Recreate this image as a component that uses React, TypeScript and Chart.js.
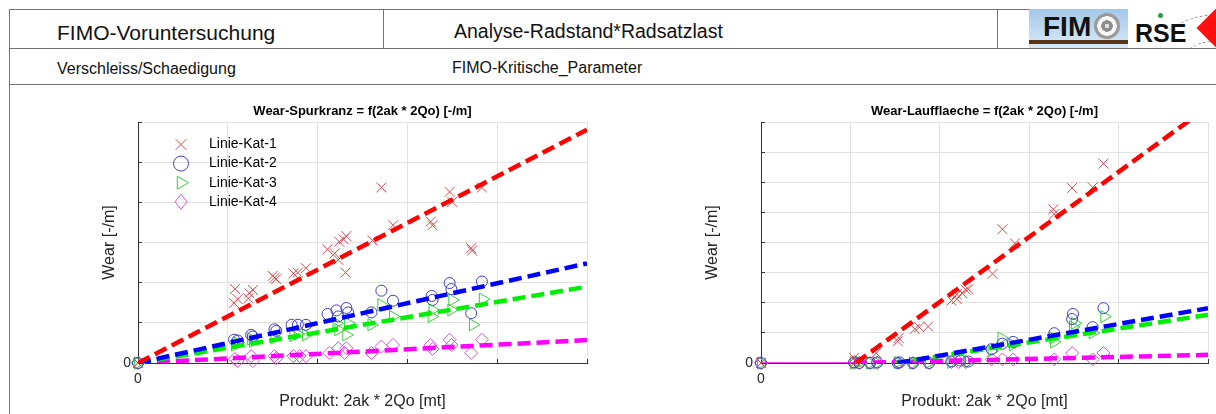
import React, { useEffect, useRef } from 'react';
import { Chart, registerables } from 'chart.js';

Chart.register(...registerables);

type Pt = [number, number];

const FONT = '"Liberation Sans", Arial, Helvetica, sans-serif';

// ---------- texts ----------
const headerMain = 'FIMO-Voruntersuchung';
const headerAnalysis = 'Analyse-Radstand*Radsatzlast';
const headerSub = 'Verschleiss/Schaedigung';
const headerParam = 'FIMO-Kritische_Parameter';
const titleSpur = 'Wear-Spurkranz = f(2ak * 2Qo) [-/m]';
const titleLauf = 'Wear-Laufflaeche = f(2ak * 2Qo) [-/m]';
const xAxisTitle = 'Produkt: 2ak * 2Qo [mt]';
const yAxisTitle = 'Wear [-/m]';
const seriesLabels = ['Linie-Kat-1', 'Linie-Kat-2', 'Linie-Kat-3', 'Linie-Kat-4'];

// ---------- axis ranges / ticks ----------
const xTickValues = [0, 1, 2, 3, 4, 5];
const ySpurTickValues = [0, 1, 2, 3, 4, 5, 6];
const yLaufTickValues = [0, 1, 2, 3, 4, 5, 6, 7, 8];
const shownTickLabels = ['0'];

// ---------- data: Wear-Spurkranz ----------
const spurKat1: Pt[] = [
  [0, 0], [1.08, 1.84], [1.07, 1.49], [1.11, 1.59], [1.24, 1.74], [1.28, 1.82], [1.23, 1.61],
  [1.50, 2.17], [1.54, 2.09], [1.52, 2.12], [1.73, 2.23], [1.78, 2.25], [1.87, 2.36],
  [2.11, 2.83], [2.19, 2.73], [2.24, 3.02], [2.29, 3.08], [2.32, 3.16], [2.31, 2.25], [2.23, 2.57],
  [2.61, 3.05], [2.71, 4.37], [2.84, 3.43], [3.26, 3.52], [3.28, 3.43], [3.47, 4.26], [3.50, 4.01],
  [3.71, 2.86], [3.72, 2.80], [3.83, 4.37],
];
const spurKat2: Pt[] = [
  [0, 0], [1.07, 0.58], [1.11, 0.56], [1.26, 0.70], [1.28, 0.66], [1.52, 0.84], [1.54, 0.80],
  [1.71, 0.95], [1.78, 0.95], [1.87, 0.95], [2.11, 1.22], [2.21, 1.31], [2.23, 1.16], [2.32, 1.37],
  [2.34, 1.26], [2.60, 1.26], [2.71, 1.80], [2.84, 1.55], [3.27, 1.67], [3.28, 1.57], [3.47, 1.99],
  [3.49, 1.84], [3.71, 1.24], [3.83, 2.03],
];
const spurKat3: Pt[] = [
  [0, 0], [1.08, 0.45], [1.11, 0.50], [1.28, 0.54], [1.26, 0.60], [1.52, 0.62], [1.73, 0.68],
  [1.78, 0.72], [1.87, 0.70], [2.21, 0.99], [2.23, 0.83], [2.32, 0.70], [2.34, 0.99], [2.60, 0.95],
  [2.71, 1.45], [2.84, 1.16], [3.27, 1.16], [3.28, 1.32], [3.49, 1.32], [3.50, 1.57], [3.73, 0.95],
  [3.84, 1.59],
];
const spurKat4: Pt[] = [
  [0, 0], [1.08, 0.10], [1.11, 0.05], [1.26, 0.17], [1.28, 0.05], [1.52, 0.17], [1.54, 0.12],
  [1.73, 0.17], [1.80, 0.17], [1.87, 0.17], [2.13, 0.25], [2.23, 0.37], [2.30, 0.25], [2.32, 0.37],
  [2.60, 0.25], [2.71, 0.41], [2.84, 0.45], [3.26, 0.45], [3.28, 0.35], [3.47, 0.58], [3.49, 0.45],
  [3.71, 0.25], [3.83, 0.58],
];
const spurFit1: Pt[] = [[0, 0], [5, 5.81]];
const spurFit2: Pt[] = [[0, 0], [5, 2.48]];
const spurFit3: Pt[] = [[0, 0], [5, 1.90]];
const spurFit4: Pt[] = [[0, 0], [5, 0.57]];

// ---------- data: Wear-Laufflaeche ----------
const laufKat1: Pt[] = [
  [0, 0], [1.04, 0.17], [1.06, 0.05], [1.10, 0.10], [1.29, 0.33], [1.53, 0.72], [1.54, 0.83],
  [1.72, 1.13], [1.77, 1.19], [1.87, 1.21], [2.13, 2.07], [2.19, 2.12], [2.19, 2.28], [2.25, 2.32],
  [2.29, 2.43], [2.32, 2.45], [2.59, 2.96], [2.70, 4.44], [2.84, 3.97], [3.27, 5.10], [3.28, 4.94],
  [3.48, 5.81], [3.71, 5.83], [3.83, 6.62],
];
const laufKat2: Pt[] = [
  [0, 0], [1.04, 0.02], [1.10, 0], [1.22, 0], [1.30, 0.02], [1.53, 0], [1.55, 0.02], [1.70, 0],
  [1.88, 0], [2.13, 0.05], [2.23, 0.08], [2.32, 0.05], [2.58, 0.46], [2.70, 0.64], [2.82, 0.70],
  [3.28, 0.99], [3.48, 1.46], [3.49, 1.63], [3.71, 1.19], [3.83, 1.82],
];
const laufKat3: Pt[] = [
  [0, 0], [1.04, 0], [1.10, 0.02], [1.22, 0], [1.30, 0], [1.53, 0.02], [1.70, 0], [1.88, 0.02],
  [2.13, 0.02], [2.32, 0.05], [2.58, 0.40], [2.69, 0.83], [2.82, 0.60], [3.27, 0.83], [3.28, 0.70],
  [3.49, 1.20], [3.51, 1.32], [3.71, 1.00], [3.84, 1.54],
];
const laufKat4: Pt[] = [
  [0, 0], [1.04, 0], [1.10, 0], [1.22, 0], [1.30, 0], [1.53, 0], [1.70, 0], [1.88, 0],
  [2.13, 0.03], [2.21, 0.03], [2.29, 0.03], [2.58, 0.12], [2.70, 0.12], [2.82, 0.12], [3.28, 0.12],
  [3.48, 0.33], [3.71, 0.12], [3.83, 0.33],
];
const laufFit1: Pt[] = [[1.06, 0], [5, 8.5]];
const laufFit2: Pt[] = [[1.53, 0], [5, 1.82]];
const laufFit3: Pt[] = [[1.5, 0], [5, 1.6]];
const laufFit4: Pt[] = [[1.04, 0], [5, 0.27]];
const laufBase4: Pt[] = [[0, 0], [1.04, 0]];

// ---------- styles ----------
const markerColors = ['#d24b4b', '#4040c4', '#3ccf3c', '#d055d0'];
const lineColors = ['#ff0000', '#0000ff', '#00ee00', '#ff00ff'];
const pointStyles = ['crossRot', 'circle', 'triangle', 'rectRot'];
const pointRotations = [0, 0, 90, 0];
const pointRadii = [7, 5.5, 7, 6.5];
const GRID = '#e2e2e2';
const AXIS = '#333333';
const TEXT = '#262626';

const toXY = (a: Pt[]) => a.map(([x, y]) => ({ x, y }));

function drawMarker(ctx: CanvasRenderingContext2D, style: string, x: number, y: number, r: number, color: string) {
  ctx.save();
  ctx.strokeStyle = color;
  ctx.lineWidth = 1;
  ctx.beginPath();
  if (style === 'crossRot') {
    const o = r * Math.SQRT1_2;
    ctx.moveTo(x - o, y - o); ctx.lineTo(x + o, y + o);
    ctx.moveTo(x + o, y - o); ctx.lineTo(x - o, y + o);
  } else if (style === 'circle') {
    ctx.arc(x, y, r, 0, Math.PI * 2);
  } else if (style === 'triangle') {
    ctx.moveTo(x + r, y);
    ctx.lineTo(x - r * 0.5, y - r * 0.866);
    ctx.lineTo(x - r * 0.5, y + r * 0.866);
    ctx.closePath();
  } else {
    ctx.moveTo(x - r * 0.8, y); ctx.lineTo(x, y - r); ctx.lineTo(x + r * 0.8, y); ctx.lineTo(x, y + r);
    ctx.closePath();
  }
  ctx.stroke();
  ctx.restore();
}

const innerTicks = {
  id: 'innerTicks',
  beforeDatasetsDraw(chart: any) {
    const { ctx, chartArea: a, scales } = chart;
    const al = (p: number) => Math.round(p - 0.5) + 0.5;
    ctx.save();
    ctx.strokeStyle = AXIS;
    ctx.lineWidth = 1;
    ctx.beginPath();
    scales.x.ticks.forEach((t: any) => {
      const px = al(scales.x.getPixelForValue(t.value));
      ctx.moveTo(px, a.bottom); ctx.lineTo(px, a.bottom - 4);
    });
    scales.y.ticks.forEach((t: any) => {
      const py = al(scales.y.getPixelForValue(t.value));
      ctx.moveTo(a.left, py); ctx.lineTo(a.left + 4, py);
    });
    ctx.stroke();
    ctx.restore();
  },
};

const insideLegend = {
  id: 'insideLegend',
  afterDatasetsDraw(chart: any, _args: any, opts: any) {
    if (!opts || !opts.show) return;
    const { ctx, chartArea: a } = chart;
    const items = chart.data.datasets.filter((d: any) => d.legendIndex !== undefined);
    ctx.save();
    ctx.font = `14px ${FONT}`;
    ctx.textBaseline = 'middle';
    ctx.textAlign = 'left';
    items.forEach((d: any) => {
      const i = d.legendIndex;
      const y = a.top + 22.5 + i * 19.1;
      drawMarker(ctx, pointStyles[i], a.left + 43, y, i === 1 ? 7.5 : 7.5, markerColors[i]);
      ctx.fillStyle = '#000';
      ctx.fillText(d.label, a.left + 71, y);
    });
    ctx.restore();
  },
};

interface Spec {
  title: string;
  yTicks: number[];
  points: Pt[][];
  fits: Pt[][];
  thin?: Pt[][];
  legend: boolean;
  padLeft: number;
  yAxisWidth: number;
  padRight: number;
  yTickPad: number;
}

function buildConfig(spec: Spec): any {
  const datasets: any[] = [];
  spec.fits.forEach((f, i) => {
    datasets.push({
      data: toXY(f),
      showLine: true,
      borderColor: lineColors[i],
      backgroundColor: lineColors[i],
      borderWidth: 4.5,
      borderDash: [13, 6],
      borderCapStyle: 'butt',
      pointRadius: 0,
      pointHoverRadius: 0,
      order: 0,
      clip: 0,
    });
  });
  (spec.thin || []).forEach((f) => {
    datasets.push({
      data: toXY(f),
      showLine: true,
      borderColor: lineColors[3],
      borderWidth: 1.5,
      pointRadius: 0,
      pointHoverRadius: 0,
      order: 0,
      clip: 0,
    });
  });
  spec.points.forEach((p, i) => {
    datasets.push({
      label: seriesLabels[i],
      legendIndex: i,
      data: toXY(p),
      showLine: false,
      pointStyle: pointStyles[i],
      rotation: pointRotations[i],
      pointRotation: pointRotations[i],
      pointRadius: pointRadii[i],
      pointHoverRadius: pointRadii[i],
      borderColor: markerColors[i],
      pointBorderColor: markerColors[i],
      backgroundColor: 'rgba(0,0,0,0)',
      pointBackgroundColor: 'rgba(0,0,0,0)',
      pointBorderWidth: 1,
      borderWidth: 1,
      order: 1,
      clip: false,
    });
  });
  const yMax = spec.yTicks[spec.yTicks.length - 1];
  const xMax = xTickValues[xTickValues.length - 1];
  const label = (v: any) => (shownTickLabels.includes(String(v)) ? String(v) : '');
  return {
    type: 'scatter',
    data: { datasets },
    options: {
      animation: false,
      responsive: true,
      maintainAspectRatio: false,
      events: [],
      layout: { padding: { left: spec.padLeft, right: spec.padRight, top: 0, bottom: 0 } },
      plugins: {
        legend: { display: false },
        tooltip: { enabled: false },
        insideLegend: { show: spec.legend },
        title: {
          display: true,
          text: spec.title,
          fullSize: false,
          color: '#000',
          font: { family: FONT, size: 13, weight: 'bold', lineHeight: 1.2 },
          padding: { top: 11.2, bottom: 3.2 },
        },
      },
      scales: {
        x: {
          type: 'linear',
          min: xTickValues[0],
          max: xMax,
          afterBuildTicks: (s: any) => { s.ticks = xTickValues.map((v) => ({ value: v })); },
          ticks: {
            autoSkip: false,
            maxRotation: 0,
            padding: 8,
            color: TEXT,
            font: { family: FONT, size: 14 },
            callback: label,
          },
          grid: { color: GRID, drawTicks: false, lineWidth: 1 },
          border: { display: true, color: AXIS, width: 1 },
          title: {
            display: true,
            text: xAxisTitle,
            color: TEXT,
            font: { family: FONT, size: 16, lineHeight: 1.2 },
            padding: { top: 0, bottom: 2.4 },
          },
          afterFit: (s: any) => { s.height = 51; },
        },
        y: {
          type: 'linear',
          min: spec.yTicks[0],
          max: yMax,
          afterBuildTicks: (s: any) => { s.ticks = spec.yTicks.map((v) => ({ value: v })); },
          ticks: {
            autoSkip: false,
            padding: spec.yTickPad,
            color: TEXT,
            font: { family: FONT, size: 14 },
            callback: label,
          },
          grid: { color: GRID, drawTicks: false, lineWidth: 1 },
          border: { display: true, color: AXIS, width: 1 },
          title: {
            display: true,
            text: yAxisTitle,
            color: TEXT,
            font: { family: FONT, size: 16, lineHeight: 1.2 },
            padding: 0,
          },
          afterFit: (s: any) => { s.width = spec.yAxisWidth; },
        },
      },
    },
    plugins: [innerTicks, insideLegend],
  };
}

const spurSpec: Spec = {
  title: titleSpur,
  yTicks: ySpurTickValues,
  points: [spurKat1, spurKat2, spurKat3, spurKat4],
  fits: [spurFit1, spurFit2, spurFit3, spurFit4],
  legend: true,
  padLeft: 100.4,
  yAxisWidth: 37.6,
  padRight: 33,
  yTickPad: 7,
};

const laufSpec: Spec = {
  title: titleLauf,
  yTicks: yLaufTickValues,
  points: [laufKat1, laufKat2, laufKat3, laufKat4],
  fits: [laufFit1, laufFit2, laufFit3, laufFit4],
  thin: [laufBase4],
  legend: false,
  padLeft: 83.4,
  yAxisWidth: 57.6,
  padRight: 5,
  yTickPad: 8,
};

function ChartBox({ spec, left, top, width, height }: { spec: Spec; left: number; top: number; width: number; height: number }) {
  const ref = useRef<HTMLCanvasElement>(null);
  useEffect(() => {
    if (!ref.current) return;
    const chart = new Chart(ref.current, buildConfig(spec));
    return () => chart.destroy();
  }, [spec]);
  return (
    <div style={{ position: 'absolute', left, top, width, height }}>
      <canvas ref={ref} />
    </div>
  );
}

const line = (left: number, top: number, width: number, height: number): React.CSSProperties => ({
  position: 'absolute', left, top, width, height, background: '#747474',
});

function txt(left: number, baseline: number, size: number, bold = false): React.CSSProperties {
  return {
    position: 'absolute',
    left,
    top: baseline - 0.8465 * size,
    fontSize: size,
    lineHeight: `${size}px`,
    fontWeight: bold ? 'bold' : 'normal',
    whiteSpace: 'nowrap',
    color: '#111',
  };
}

export default function App() {
  useEffect(() => {
    document.body.style.margin = '0';
  }, []);
  return (
    <div style={{ position: 'absolute', left: 0, top: 0, width: 1216, height: 414, overflow: 'hidden', background: '#fff', fontFamily: FONT }}>
      {/* header grid */}
      <div style={line(9, 9, 1020, 1)} />
      <div style={line(9, 48, 1207, 1)} />
      <div style={line(9, 84, 1207, 1)} />
      <div style={line(9, 9, 1, 405)} />
      <div style={line(383, 9, 1, 39)} />
      <div style={line(997, 9, 1, 39)} />
      <div style={txt(57, 39.3, 21)}>{headerMain}</div>
      <div style={txt(454, 38.3, 19.5)}>{headerAnalysis}</div>
      <div style={txt(57, 75, 16)}>{headerSub}</div>
      <div style={txt(452, 74, 16)}>{headerParam}</div>
      {/* logo */}
      <div style={{ position: 'absolute', left: 1029, top: 9, width: 99, height: 39, background: 'linear-gradient(180deg, #a3c7e7 0%, #c9e0f3 70%, #d7e8f6 100%)' }}>
        <div style={{ position: 'absolute', left: 0, top: 31, width: 99, height: 4, background: '#5a3416' }} />
      </div>
      <div style={txt(1043, 36.7, 28, true)}>FIM</div>
      <div style={{ position: 'absolute', left: 1094, top: 13, width: 26, height: 26, borderRadius: '50%', background: 'radial-gradient(circle, #e4e4e4 0px, #e4e4e4 2px, #8d8d8d 2.5px, #8d8d8d 5.5px, #f6f6f6 6px, #f6f6f6 9.5px, #9a9a9a 10px, #9a9a9a 13px)' }} />
      <div style={{ position: 'absolute', left: 1128, top: 8, width: 88, height: 40, background: '#fff', overflow: 'hidden' }}>
        <div style={{ position: 'absolute', left: 32, top: 6, width: 120, height: 70, borderTop: '1.5px dashed #8a8a8a', borderRadius: '50%' }} />
        <div style={{ position: 'absolute', left: 30, top: 5, width: 5, height: 5, borderRadius: '50%', background: '#2d9b4e' }} />
        <div style={{ position: 'absolute', left: 55, top: 33, width: 60, height: 40, borderTop: '1.5px dashed #8a8a8a', borderRadius: '50%' }} />
        <div style={{ position: 'absolute', left: 69 + 28 - 19.8, top: 20 - 19.8, width: 39.6, height: 39.6, background: '#ff1010', transform: 'rotate(45deg)' }} />
      </div>
      <div style={txt(1135, 41.7, 25, true)}>RSE</div>
      {/* charts */}
      <ChartBox spec={spurSpec} left={0} top={92} width={620} height={322} />
      <ChartBox spec={laufSpec} left={620} top={92} width={596} height={322} />
    </div>
  );
}
